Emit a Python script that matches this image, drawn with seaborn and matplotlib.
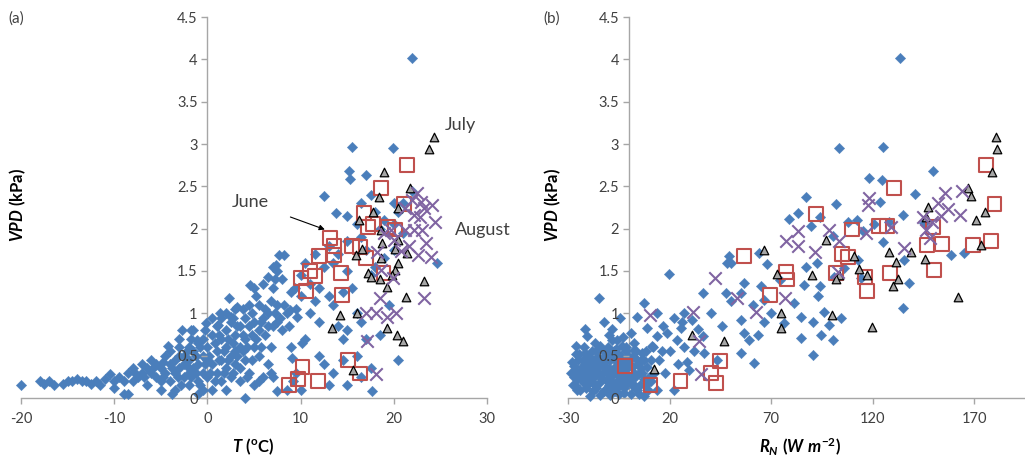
import matplotlib
matplotlib.use("Agg")
import matplotlib.pyplot as plt
import pandas as pd
import seaborn as sns

sns.set_theme(style="white")
plt.rcParams["font.family"] = ["Lato", "DejaVu Sans"]
plt.rcParams["axes.unicode_minus"] = False
plt.rcParams["mathtext.fontset"] = "custom"
plt.rcParams["mathtext.it"] = "Lato:italic:bold"
plt.rcParams["mathtext.rm"] = "Lato:bold"
plt.rcParams["mathtext.bf"] = "Lato:bold"

# ---- panel (a): VPD vs air temperature ----
# all other days (blue diamonds), (T, VPD)
other_a = [
    (-20, 0.15), (-18, 0.2), (-17.5, 0.17), (-17, 0.2), (-16.5, 0.15), (-15.5, 0.17),
    (-15, 0.2), (-14.5, 0.2), (-14, 0.22), (-13.5, 0.2), (-13, 0.2), (-12.5, 0.17),
    (-12, 0.2), (-11.5, 0.15), (-11, 0.22), (-10.5, 0.28), (-10, 0.2), (-10, 0.12),
    (-9.5, 0.25), (-9, 0.05), (-8.5, 0.05), (-9, 0.2), (-8.5, 0.3), (-8, 0.35),
    (-8, 0.2), (-7.5, 0.25), (-7, 0.3), (-7, 0.4), (-6.5, 0.35), (-6.5, 0.15),
    (-6, 0.45), (-6, 0.3), (-5.5, 0.25), (-5.5, 0.4), (-5, 0.35), (-5, 0.1), (-5, 0.2),
    (-4.5, 0.5), (-4.5, 0.3), (-4, 0.55), (-4, 0.4), (-4, 0.2), (-3.5, 0.45),
    (-3.5, 0.3), (-3.5, 0.1), (-3, 0.6), (-3, 0.35), (-3, 0.5), (-2.5, 0.25),
    (-2.5, 0.5), (-2.7, 0.8), (-2.5, 0.4), (-2, 0.3), (-2, 0.6), (-2, 0.45),
    (-2, 0.15), (-1.5, 0.8), (-1.5, 0.55), (-1.5, 0.35), (-1, 0.4), (-1, 0.65),
    (-1, 0.2), (-1, 0.05), (-0.5, 0.5), (-0.5, 0.3), (-0.2, 0.88), (-0.5, 0.7),
    (0, 0.45), (0, 0.25), (0, 0.6), (0.5, 0.4), (0.5, 0.75), (0.5, 0.1), (1, 0.55),
    (1, 0.3), (1, 0.85), (1.5, 0.7), (1.5, 0.45), (1.5, 0.95), (1.5, 0.2), (2, 0.6),
    (2, 1.0), (2, 0.35), (2, 0.8), (2.3, 1.18), (2.5, 0.5), (2.5, 0.9), (2.5, 0.25),
    (3, 0.75), (3, 0.55), (3, 1.05), (3, 0.4), (3.5, 0.85), (3.5, 0.6), (3.5, 0.2),
    (4, 0.95), (4, 0.7), (4, 0.45), (4, 0.0), (4.5, 1.1), (4.5, 0.85), (4.5, 0.3),
    (5, 0.6), (5, 1.3), (5, 0.9), (5, 0.15), (5.5, 1.1), (5.5, 0.8), (5.5, 0.5),
    (6, 1.35), (6, 0.95), (6, 0.25), (6.5, 0.85), (6.5, 1.0), (6.5, 0.4), (7, 1.55),
    (7, 1.3), (7, 0.85), (7, 0.25), (7.5, 1.5), (7.5, 1.1), (7.5, 0.9), (7.5, 0.08),
    (7.7, 1.69), (8.2, 1.69), (8, 1.4), (8, 0.8), (8.5, 1.0), (8.5, 0.1), (9, 1.25),
    (9, 0.6), (9.1, 0.47), (9.5, 1.05), (9.5, 0.3), (10, 1.45), (10, 1.2), (10, 0.1),
    (10.2, 0.65), (10.5, 1.6), (10.5, 0.7), (11, 1.35), (11, 1.0), (11.5, 1.7),
    (11.5, 1.15), (12, 1.3), (12, 0.9), (12, 0.5), (12.5, 2.38), (12.5, 1.55),
    (12.5, 0.4), (13, 1.8), (13, 1.2), (13, 0.15), (13.5, 1.6), (13.5, 1.1),
    (13.5, 0.3), (13.8, 2.18), (14, 1.7), (14, 0.85), (14.5, 1.25), (14.5, 0.45),
    (14.5, 0.7), (15, 2.15), (15, 1.85), (15, 1.5), (15, 0.8), (15, 0.15),
    (15.5, 2.97), (15.2, 2.68), (15.3, 2.59), (15.5, 1.3), (16, 2.05), (16, 1.0),
    (16, 0.5), (16.5, 2.3), (16.5, 1.9), (16.5, 0.9), (16.5, 0.25), (17, 2.63),
    (17, 1.75), (17, 0.7), (17.5, 2.4), (17.5, 1.45), (17.5, 0.35), (18, 2.2),
    (18, 1.55), (17.7, 0.08), (18.5, 2.0), (18.5, 0.75), (19, 2.1), (19, 1.65),
    (19.9, 2.95), (19.5, 1.1), (20, 2.3), (20, 2.05), (20.4, 0.45), (20, 1.75),
    (21, 2.3), (21, 1.95), (22, 4.02), (22, 2.45), (24.6, 1.59), (20.5, 2.2),
    (-4.8, 0.42), (-4.2, 0.62), (-3.8, 0.35), (-3.2, 0.25), (-3.0, 0.7), (-2.8, 0.15),
    (-2.2, 0.55), (-2.2, 0.38), (-1.8, 0.7), (-1.8, 0.25), (-1.2, 0.5), (-1.2, 0.3),
    (-0.8, 0.6), (-0.8, 0.15), (-0.3, 0.4), (-0.3, 0.8), (0.2, 0.5), (0.3, 0.3),
    (0.8, 0.65), (0.8, 0.2), (1.2, 0.45), (1.2, 0.75), (1.8, 0.55), (1.8, 0.3),
    (2.2, 0.7), (2.2, 0.45), (2.8, 0.65), (2.8, 0.3), (2.8, 0.95), (3.2, 0.5),
    (3.2, 0.85), (3.8, 0.75), (3.8, 0.55), (3.8, 1.05), (4.2, 0.6), (4.2, 0.25),
    (4.8, 0.75), (4.8, 1.0), (4.8, 0.45), (5.2, 1.2), (5.2, 0.7), (5.8, 0.9),
    (5.8, 0.6), (6.2, 1.05), (6.2, 0.75), (6.8, 1.15), (6.8, 0.6), (7.2, 1.0),
    (7.3, 1.4), (7.8, 0.95), (7.4, 1.57), (6.5, 1.43), (8.2, 1.1), (8.8, 0.85),
    (8.9, 1.04), (9.6, 0.96), (9.4, 1.3), (4.6, 1.33), (3.2, 1.07), (1.4, 1.0),
    (2.5, 0.96), (-1.1, 0.68), (1.1, 0.86), (-1.8, 0.8), (0.5, 0.95), (3.5, 0.35),
    (5.5, 0.2), (6.8, 0.3), (9.2, 0.2), (-0.5, 0.1), (2.0, 0.1), (-3.8, 0.05),
    (-6.8, 0.25), (-7.8, 0.3), (-5.8, 0.35), (-4.8, 0.25),
]
# June (red squares)
june_a = [
    (21.4, 2.75), (18.6, 2.48), (21.1, 2.29), (16.8, 2.18), (17.2, 2.02), (17.8, 2.06),
    (19.4, 2.02), (20.1, 1.99), (13.2, 1.89), (13.6, 1.8), (13.6, 1.69), (12.0, 1.68),
    (15.5, 1.8), (16.4, 1.78), (17.0, 1.65), (14.3, 1.48), (18.9, 1.48), (11.0, 1.5),
    (10.0, 1.42), (11.5, 1.44), (10.6, 1.26), (14.4, 1.22), (10.2, 0.37), (15.1, 0.45),
    (16.4, 0.29), (9.7, 0.22), (8.8, 0.15), (11.9, 0.2),
]
# July (grey triangles)
july_a = [
    (24.3, 3.08), (23.8, 2.94), (18.9, 2.67), (21.7, 2.48), (18.4, 2.37), (20.4, 2.25),
    (17.8, 2.2), (16.3, 2.1), (18.6, 1.99), (20.4, 1.87), (18.7, 1.83), (16.6, 1.76),
    (15.9, 1.69), (20.1, 1.76), (21.4, 1.71), (18.6, 1.65), (20.4, 1.6), (17.2, 1.48),
    (17.5, 1.43), (18.5, 1.40), (20.1, 1.51), (19.8, 1.45), (23.2, 1.38), (19.3, 1.31),
    (21.3, 1.19), (14.2, 0.98), (16.1, 1.0), (13.4, 0.83), (19.3, 0.83), (20.3, 0.75),
    (21.0, 0.67), (15.6, 0.33),
]
# August (purple crosses)
aug_a = [
    (22.5, 2.42), (22.0, 2.34), (22.9, 2.32), (24.1, 2.28), (23.2, 2.24), (22.2, 2.16),
    (22.8, 2.14), (21.2, 2.24), (24.4, 2.08), (19.7, 1.99), (21.2, 1.99), (22.2, 1.99),
    (23.0, 1.99), (18.9, 1.95), (20.0, 1.87), (23.5, 1.83), (20.8, 1.74), (21.6, 1.79),
    (24.0, 1.67), (22.6, 1.69), (18.2, 1.73), (18.6, 1.51), (19.9, 1.42), (18.5, 1.18),
    (23.2, 1.18), (17.0, 1.0), (18.1, 1.0), (19.3, 0.96), (20.2, 1.0), (17.1, 0.67),
    (18.1, 0.28),
]

# ---- panel (b): VPD vs net radiation ----
other_b = [
    (133.7, 4.02), (103.6, 2.95), (124.9, 2.97), (149.6, 2.68), (118.4, 2.6), (124.4, 2.58),
    (140.6, 2.41), (87.1, 2.37), (101.9, 2.29), (123.6, 2.31), (83.4, 2.18), (134.8, 2.16),
    (78.9, 2.11), (120.8, 2.06), (128.2, 2.08), (107.7, 2.08), (89.6, 2.03), (94.2, 2.14),
    (112.3, 2.1), (145.5, 2.07), (100.3, 1.91), (124.9, 1.84), (115.1, 1.97), (158.7, 1.69),
    (165.0, 1.71), (49.3, 1.68), (68.2, 1.58), (48.5, 1.59), (64.1, 1.71), (87.1, 1.55),
    (92.6, 1.59), (74.4, 1.39), (86.3, 1.34), (93.9, 1.32), (106.0, 1.53), (112.6, 1.63),
    (135.6, 1.63), (138.1, 1.36), (114.3, 1.42), (100.8, 1.43), (135.1, 1.06), (96.2, 1.02),
    (104.4, 0.94), (92.9, 1.20), (81.4, 1.12), (84.7, 0.96), (90.4, 0.90), (100.3, 0.69),
    (90.4, 0.51), (98.6, 0.86), (84.7, 0.71), (94.5, 0.75), (76.4, 0.88), (66.6, 0.9),
    (63.6, 0.75), (70.0, 1.0), (66.6, 1.16), (61.0, 1.10), (65.1, 1.32), (55.0, 1.24),
    (50.1, 1.14), (47.6, 1.24), (56.7, 1.36), (55.0, 0.92), (56.7, 0.77), (59.2, 0.69),
    (61.6, 0.41), (55.0, 0.53), (50.1, 1.59), (46.0, 0.85), (40.2, 1.0), (36.6, 1.24),
    (36.6, 0.73), (31.2, 0.92), (27.1, 1.0), (25.4, 0.83), (23.8, 0.69), (19.7, 1.47),
    (22.1, 0.94), (18.8, 0.77), (16.4, 0.55), (13.9, 0.73), (11.5, 0.61), (13.9, 1.0),
    (9.0, 0.83), (7.4, 1.12), (4.1, 0.96), (6.5, 0.53), (9.0, 0.37), (13.9, 0.1),
    (22.1, 0.1), (28.7, 0.43), (36.9, 0.53), (43.5, 0.45), (29.5, 0.33), (2.4, 0.57),
    (0.8, 0.77), (-4.2, 0.94), (-8.3, 0.81), (-5.8, 0.69), (-14.9, 1.18), (-12.4, 0.90),
    (-20.6, 0.73), (-21.4, 0.81), (-0.9, 0.18), (7.4, 0.02), (4.1, 0.1),
    (-28.0, 0.43), (-26.4, 0.33), (-25.6, 0.22), (-23.9, 0.1), (-23.1, 0.37), (-21.4, 0.53),
    (-19.8, 0.28), (-18.2, 0.41), (-17.3, 0.16), (-15.7, 0.49), (-14.9, 0.29), (-14.0, 0.61),
    (-12.4, 0.37), (-11.6, 0.1), (-10.8, 0.53), (-9.9, 0.24), (-9.1, 0.45), (-8.3, 0.69),
    (-7.5, 0.33), (-6.6, 0.12), (-5.8, 0.53), (-5.0, 0.26), (-4.2, 0.41), (-3.4, 0.61),
    (-2.5, 0.06), (-1.7, 0.29), (0.0, 0.49), (0.8, 0.22), (1.6, 0.37), (2.4, 0.65),
    (3.2, 0.14), (4.9, 0.29), (5.7, 0.45), (7.3, 0.22), (-19.0, 0.02), (-14.0, 0.04),
    (-9.1, 0.04), (-16.5, 0.65), (-20.6, 0.26), (-22.0, 0.18), (-27.0, 0.25), (-25.0, 0.45),
    (-24.0, 0.3), (-22.5, 0.45), (-20.0, 0.38), (-18.5, 0.2), (-17.0, 0.32), (-16.0, 0.12),
    (-15.0, 0.4), (-13.5, 0.22), (-12.0, 0.5), (-11.0, 0.3), (-10.0, 0.15), (-8.5, 0.27),
    (-7.0, 0.45), (-6.0, 0.2), (-4.5, 0.35), (-3.0, 0.2), (-2.0, 0.45), (-1.0, 0.35),
    (1.0, 0.05), (2.5, 0.3), (3.8, 0.45), (6.0, 0.35), (8.5, 0.15), (10.0, 0.25),
    (-25.5, 0.1), (-22.0, 0.6), (-18.0, 0.55), (-13.0, 0.55), (-6.5, 0.58), (-1.5, 0.55),
    (5.0, 0.05), (11.0, 0.45), (12.5, 0.3), (-27.5, 0.15), (-26.0, 0.52), (-5.0, 0.05),
    (-28.5, 0.3), (-27.0, 0.38), (-26.5, 0.15), (-25.0, 0.28), (-24.5, 0.52), (-23.5, 0.22),
    (-22.5, 0.32), (-21.5, 0.4), (-21.0, 0.12), (-20.0, 0.5), (-19.5, 0.18), (-18.8, 0.33),
    (-18.0, 0.45), (-17.5, 0.08), (-16.8, 0.26), (-16.0, 0.55), (-15.5, 0.35), (-14.5, 0.18),
    (-13.8, 0.45), (-13.0, 0.3), (-12.5, 0.08), (-11.8, 0.42), (-11.0, 0.2), (-10.5, 0.6),
    (-9.8, 0.35), (-9.5, 0.1), (-8.8, 0.5), (-8.0, 0.18), (-7.5, 0.55), (-7.0, 0.08),
    (-6.5, 0.38), (-6.0, 0.28), (-5.5, 0.45), (-4.8, 0.15), (-4.0, 0.5), (-3.5, 0.3),
    (-2.8, 0.4), (-2.2, 0.12), (-1.5, 0.6), (-0.5, 0.25), (0.5, 0.4), (1.5, 0.15),
    (2.0, 0.5), (3.0, 0.25), (3.5, 0.55), (4.5, 0.4), (5.5, 0.15), (6.5, 0.3),
    (7.5, 0.45), (8.5, 0.55), (9.5, 0.1), (11.0, 0.2), (12.0, 0.6), (15.0, 0.45),
    (18.0, 0.3), (20.0, 0.55), (24.0, 0.4), (27.0, 0.6), (32.0, 0.55), (34.0, 0.82),
    (26.0, 0.9), (17.0, 0.85), (-10.0, 0.75), (-26.0, 0.62), (-3.0, 0.72),
]
june_b = [
    (175.9, 2.75), (130.7, 2.48), (180.0, 2.29), (92.1, 2.17), (123.3, 2.03), (127.1, 2.03),
    (109.7, 1.99), (104.9, 1.70), (108.0, 1.67), (56.7, 1.68), (146.8, 1.81), (154.1, 1.82),
    (169.4, 1.81), (178.1, 1.85), (149.6, 2.02), (77.2, 1.49), (77.7, 1.40), (101.9, 1.48),
    (128.7, 1.48), (116.2, 1.43), (150.1, 1.51), (69.5, 1.22), (117.2, 1.26), (-2.0, 0.38),
    (44.8, 0.44), (40.2, 0.30), (42.7, 0.18), (25.4, 0.2), (10.6, 0.15),
]
july_b = [
    (180.6, 3.08), (181.4, 2.94), (178.9, 2.67), (166.9, 2.48), (168.2, 2.38), (147.2, 2.26),
    (175.1, 2.2), (171.0, 2.1), (146.3, 2.14), (97.0, 1.87), (66.6, 1.75), (128.2, 1.73),
    (138.9, 1.73), (111.0, 1.68), (173.5, 1.81), (131.5, 1.61), (145.9, 1.64), (73.1, 1.47),
    (89.9, 1.45), (113.4, 1.52), (117.2, 1.45), (103.6, 1.45), (101.9, 1.40), (132.7, 1.40),
    (129.9, 1.32), (162.0, 1.19), (75.1, 1.0), (99.8, 0.98), (74.8, 0.83), (119.5, 0.84),
    (31.2, 0.75), (46.8, 0.67), (12.3, 0.34),
]
aug_b = [
    (118.4, 2.36), (117.6, 2.28), (155.4, 2.42), (163.9, 2.45), (152.1, 2.30), (157.0, 2.23),
    (144.7, 2.14), (153.8, 2.15), (162.8, 2.16), (149.3, 2.08), (146.5, 1.99), (129.1, 2.02),
    (98.6, 1.99), (83.0, 1.97), (116.7, 1.95), (103.6, 1.85), (77.2, 1.85), (83.3, 1.80),
    (91.6, 1.73), (135.6, 1.77), (148.0, 1.89), (103.1, 1.49), (42.2, 1.42), (53.1, 1.18),
    (76.9, 1.18), (62.4, 1.02), (31.7, 1.02), (10.6, 0.98), (34.5, 0.67), (35.3, 0.28),
]

blue = "#4a7ebb"
red = "#c0504d"
purple = "#8064a2"
axis_grey = "#a6a6a6"
text_col = "#404040"


def draw_panel(ax, other, june, july, aug, xcol):
    def frame(pts):
        return pd.DataFrame(pts, columns=[xcol, "VPD"])

    sns.scatterplot(data=frame(other), x=xcol, y="VPD", ax=ax, marker="D", s=28,
                    color=blue, edgecolor=blue, linewidth=0.3, clip_on=False, zorder=3)
    sns.scatterplot(data=frame(june), x=xcol, y="VPD", ax=ax, marker="s", s=100,
                    facecolor="none", edgecolor=red, linewidth=1.5, clip_on=False, zorder=4)
    sns.scatterplot(data=frame(july), x=xcol, y="VPD", ax=ax, marker="^", s=38,
                    color="#a6a6a6", edgecolor="black", linewidth=0.9, clip_on=False, zorder=5)
    sns.scatterplot(data=frame(aug), x=xcol, y="VPD", ax=ax, marker="x", s=80,
                    color=purple, linewidth=1.5, clip_on=False, zorder=6)

    ax.set_ylim(0, 4.5)
    ax.set_yticks([0, 0.5, 1, 1.5, 2, 2.5, 3, 3.5, 4, 4.5])
    ax.set_yticklabels(["0", "0.5", "1", "1.5", "2", "2.5", "3", "3.5", "4", "4.5"])
    ax.spines["left"].set_position(("data", 0))
    ax.spines["bottom"].set_position(("data", 0))
    ax.spines["top"].set_visible(False)
    ax.spines["right"].set_visible(False)
    for side in ["left", "bottom"]:
        ax.spines[side].set_color(axis_grey)
        ax.spines[side].set_linewidth(1.0)
        ax.spines[side].set_zorder(1)
    ax.tick_params(axis="both", which="major", direction="out", length=4, width=1,
                   color=axis_grey, labelcolor=text_col, labelsize=10.5, pad=3)
    ax.tick_params(axis="y", left=True)
    ax.tick_params(axis="x", bottom=True, pad=6)
    # tick labels sit on top of the markers, as in the original
    ax.xaxis.set_zorder(10)
    ax.yaxis.set_zorder(10)
    ax.set_xlabel("")
    ax.set_ylabel("")
    ax.set_facecolor("none")


fig = plt.figure(figsize=(10.25, 4.59), dpi=100)
ax_a = fig.add_axes([21 / 1025, 61 / 459, 466 / 1025, 381 / 459])
ax_b = fig.add_axes([568 / 1025, 61 / 459, 457 / 1025, 381 / 459])

draw_panel(ax_a, other_a, june_a, july_a, aug_a, "T")
ax_a.set_xlim(-20, 30)
ax_a.set_xticks([-20, -10, 0, 10, 20, 30])

draw_panel(ax_b, other_b, june_b, july_b, aug_b, "RN")
ax_b.set_xlim(-30, 195)
ax_b.set_xticks([-30, 20, 70, 120, 170])

# axis labels
fig.text(18 / 1025, 1 - 205 / 459, r"$\mathit{VPD}$ (kPa)", rotation=90, ha="center",
         va="center", fontsize=12, fontweight="bold", color="black")
fig.text(553 / 1025, 1 - 205 / 459, r"$\mathit{VPD}$ (kPa)", rotation=90, ha="center",
         va="center", fontsize=12, fontweight="bold", color="black")
fig.text(253 / 1025, 1 - 447 / 459, r"$\mathit{T}$ ($^{\mathrm{o}}$C)", ha="center",
         va="center", fontsize=12, fontweight="bold", color="black")
fig.text(800 / 1025, 1 - 447 / 459, r"$\mathit{R_N\ (W\ m^{-2})}$", ha="center",
         va="center", fontsize=12, color="black")

fig.text(8 / 1025, 1 - 19 / 459, "(a)", ha="left", va="center", fontsize=11, color=text_col)
fig.text(543 / 1025, 1 - 19 / 459, "(b)", ha="left", va="center", fontsize=11, color=text_col)

# month annotations
ax_a.annotate("June", xy=(12.6, 1.99), xytext=(4.6, 2.31), fontsize=13, color=text_col,
              ha="center", va="center",
              arrowprops=dict(arrowstyle="-|>", color="black", lw=0.8,
                              shrinkA=14, shrinkB=0, mutation_scale=8))
ax_a.text(27.1, 3.22, "July", fontsize=13, color=text_col, ha="center", va="center")
ax_a.text(26.6, 1.98, "August", fontsize=13, color=text_col, ha="left", va="center",
          clip_on=False)

fig.savefig("out.png", dpi=100)
